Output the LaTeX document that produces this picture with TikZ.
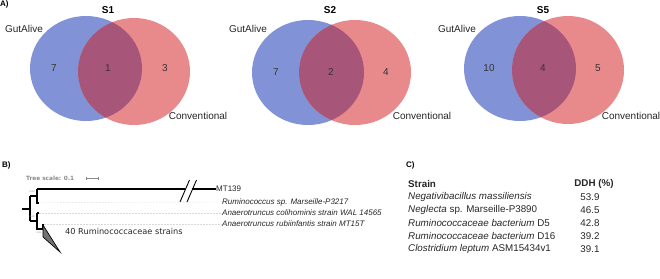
\documentclass[tikz,border=0pt]{standalone}
\usepackage{fontspec}
\setmainfont{Liberation Sans}
\newfontfamily\treefont{DejaVu Sans}
\usepackage{tikz}
\usetikzlibrary{positioning,calc}

\definecolor{gaBlue}{HTML}{8193D6}
\definecolor{convRed}{HTML}{E88A8B}
\definecolor{bothMix}{HTML}{A8557A}
\definecolor{treeGray}{HTML}{8A8A8A}

\tikzset{
    vtitle/.style={font=\bfseries\fontsize{10}{12}\selectfont},
    vlabel/.style={font=\fontsize{10}{12}\selectfont, text=black!85},
    vnum/.style={font=\fontsize{10}{12}\selectfont, text=black!80},
    panel/.style={font=\bfseries\fontsize{8}{9}\selectfont, anchor=west, inner sep=0pt},
    leaf/.style={font=\itshape\fontsize{8}{9}\selectfont, anchor=west, inner sep=0pt, text=black!85},
    leader/.style={black!15, line width=0.4pt, dash pattern=on 1.5pt off 1.5pt},
    boot/.style={font=\fontsize{2.5}{3}\selectfont, text=treeGray, inner sep=0pt},
    cell/.style={font=\fontsize{9.8}{12}\selectfont, anchor=west, inner sep=0pt, text=black!85},
    num/.style={font=\fontsize{9.8}{12}\selectfont, inner sep=0pt, text=black!85}
}

\begin{document}
\begin{tikzpicture}[x=1pt, y=-1pt]
    \useasboundingbox (0,0) rectangle (660,278);

    % Panel A: Venn diagrams
    \node[panel] (labA) at (0,4) {A)};

    % S1
    \fill[gaBlue] (86,68.5) ellipse [x radius=56, y radius=52.5];
    \fill[convRed] (134,71.5) ellipse [x radius=56, y radius=53.5];
    \begin{scope}
        \clip (86,68.5) ellipse [x radius=56, y radius=52.5];
        \fill[bothMix] (134,71.5) ellipse [x radius=56, y radius=53.5];
    \end{scope}
    \node[vtitle] (tS1) at (108,10) {S1};
    \node[vlabel] (gaS1) at (24,29) {GutAlive};
    \node[vlabel] (cvS1) at (198,116) {Conventional};
    \node[vnum] (aS1) at (54,68) {7};
    \node[vnum] (bS1) at (108,68) {1};
    \node[vnum] (cS1) at (165,68) {3};

    % S2
    \fill[gaBlue] (308,72.5) ellipse [x radius=56, y radius=52.5];
    \fill[convRed] (355,72.5) ellipse [x radius=56, y radius=52.5];
    \begin{scope}
        \clip (308,72.5) ellipse [x radius=56, y radius=52.5];
        \fill[bothMix] (355,72.5) ellipse [x radius=56, y radius=52.5];
    \end{scope}
    \node[vtitle] (tS2) at (330,10) {S2};
    \node[vlabel] (gaS2) at (248,29) {GutAlive};
    \node[vlabel] (cvS2) at (422,116) {Conventional};
    \node[vnum] (aS2) at (276,72) {7};
    \node[vnum] (bS2) at (331,72) {2};
    \node[vnum] (cS2) at (386,72) {4};

    % S5
    \fill[gaBlue] (520,68.5) ellipse [x radius=56, y radius=52.5];
    \fill[convRed] (568,70) ellipse [x radius=56, y radius=54];
    \begin{scope}
        \clip (520,68.5) ellipse [x radius=56, y radius=52.5];
        \fill[bothMix] (568,70) ellipse [x radius=56, y radius=54];
    \end{scope}
    \node[vtitle] (tS5) at (543,10) {S5};
    \node[vlabel] (gaS5) at (457,29) {GutAlive};
    \node[vlabel] (cvS5) at (631,116) {Conventional};
    \node[vnum] (aS5) at (489,68) {10};
    \node[vnum] (bS5) at (543,68) {4};
    \node[vnum] (cS5) at (598,68) {5};

    % Panel B: tree
    \node[panel] (labB) at (2,165) {B)};
    \node[anchor=west, inner sep=0pt, text=treeGray, font=\treefont\bfseries\fontsize{5.8}{7}\selectfont] (scale) at (26,178) {Tree scale: 0.1};
    \draw[treeGray, line width=0.5pt] (86,178) -- (98,178);
    \draw[treeGray, line width=0.5pt] (86,176.5) -- (86,179.5);
    \draw[treeGray, line width=0.5pt] (98,176.5) -- (98,179.5);

    \coordinate (root) at (22,209);
    \coordinate (n0) at (30,209);
    \coordinate (n1) at (37,196);
    \coordinate (n2) at (37,221);
    \coordinate (n3) at (43,229);

    \draw[line width=1.1pt] (root) -- (n0);
    \draw[line width=1.1pt] (30,196) -- (30,221);
    \draw[line width=1.1pt] (30,196) -- (n1);
    \draw[line width=1.1pt] (30,221) -- (n2);
    \draw[line width=1.1pt] (37,188.5) -- (37,203.5);
    \draw[line width=1.1pt] (37,213) -- (37,229.5);
    \draw[line width=1.1pt] (37,229) -- (n3);
    \draw[line width=1.1pt] (43,224) -- (43,229.5);

    % MT139 with broken branch
    \node[leaf, font=\fontsize{8}{9}\selectfont] (mt) at (216,189) {MT139};
    \draw[line width=1.1pt] (37,189) -- (184.5,189);
    \draw[line width=1.1pt] (191.5,189) -- (mt.west);
    \draw[line width=0.9pt] (180,202) -- (189.5,180);
    \draw[line width=0.9pt] (187,202) -- (196.5,180);

    % short leaves
    \node[leaf] (rum) at (222,202) {Ruminococcus sp. Marseille-P3217};
    \node[leaf] (coli) at (222,213) {Anaerotruncus colihominis strain WAL 14565};
    \node[leaf] (rubi) at (222,224) {Anaerotruncus rubiinfantis strain MT15T};
    \draw[line width=1.1pt] (37,203) -- (39,203);
    \draw[line width=1.1pt] (37,213) -- (39,213);
    \draw[leader] (39,202.5) -- (rum.west);
    \draw[leader] (39,213) -- (coli.west);
    \draw[leader] (44,224) -- (rubi.west);

    % collapsed clade
    \filldraw[fill=black!55, draw=black, line width=0.7pt] (43,225) -- (43,237) -- (60,252) -- cycle;
    \node[anchor=west, inner sep=0pt, font=\treefont\fontsize{8.2}{10}\selectfont, text=black!85] (clade) at (65,231) {40 Ruminococcaceae strains};

    % support values
    \node[boot] (s1) at (32,192) {0.23};
    \node[boot] (s2) at (32,217) {0.28};
    \node[boot] (s3) at (39,233) {0.53};

    % Panel C: DDH table
    \node[panel] (labC) at (406,165) {C)};
    \node[cell, font=\bfseries\fontsize{9.8}{12}\selectfont] (hStrain) at (408,184) {Strain};
    \node[num, font=\bfseries\fontsize{9.8}{12}\selectfont] (hDDH) at (594,184) {DDH (\%)};

    \node[cell] (r1) at (408,197) {\itshape Negativibacillus massiliensis};
    \node[cell] (r2) at (408,210) {\textit{Neglecta} sp. Marseille-P3890};
    \node[cell] (r3) at (408,223) {\textit{Ruminococcaceae bacterium} D5};
    \node[cell] (r4) at (408,236) {\textit{Ruminococcaceae bacterium} D16};
    \node[cell] (r5) at (408,249) {\textit{Clostridium leptum} ASM15434v1};

    \node[num] (v1) at (590,197) {53.9};
    \node[num] (v2) at (590,210) {46.5};
    \node[num] (v3) at (590,223) {42.8};
    \node[num] (v4) at (590,236) {39.2};
    \node[num] (v5) at (590,249) {39.1};
\end{tikzpicture}
\end{document}
